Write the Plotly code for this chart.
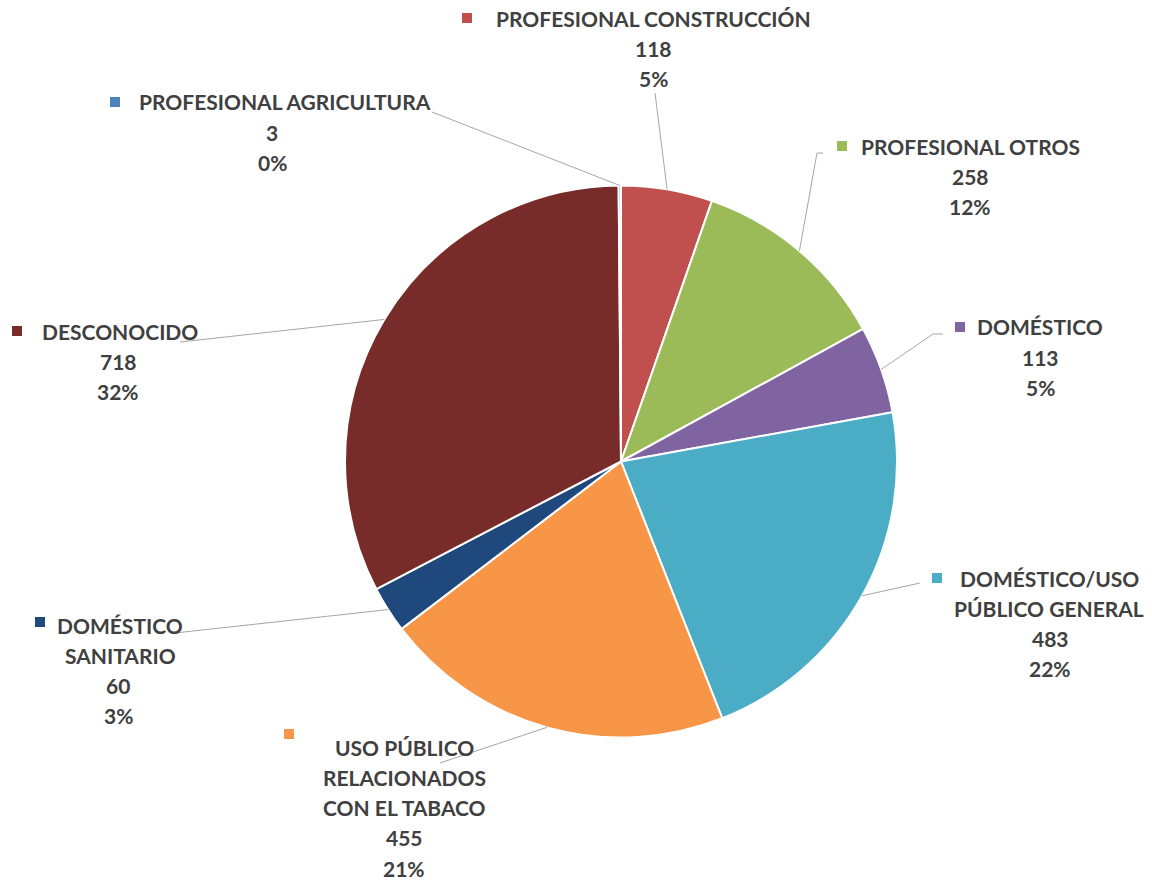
import math
import plotly.graph_objects as go

# Data
categories = [
    "PROFESIONAL CONSTRUCCIÓN",
    "PROFESIONAL OTROS",
    "DOMÉSTICO",
    "DOMÉSTICO/USO PÚBLICO GENERAL",
    "USO PÚBLICO RELACIONADOS CON EL TABACO",
    "DOMÉSTICO SANITARIO",
    "DESCONOCIDO",
    "PROFESIONAL AGRICULTURA",
]
values = [118, 258, 113, 483, 455, 60, 718, 3]
pct_labels = ["5%", "12%", "5%", "22%", "21%", "3%", "32%", "0%"]
colors = ["#C0504D", "#9BBB59", "#8064A2", "#4BACC6", "#F79646", "#1F497D", "#772C2A", "#4F81BD"]

# Label name lines as they wrap on the chart
name_lines = [
    ["PROFESIONAL CONSTRUCCIÓN"],
    ["PROFESIONAL OTROS"],
    ["DOMÉSTICO"],
    ["DOMÉSTICO/USO", "PÚBLICO GENERAL"],
    ["USO PÚBLICO", "RELACIONADOS", "CON EL TABACO"],
    ["DOMÉSTICO", "SANITARIO"],
    ["DESCONOCIDO"],
    ["PROFESIONAL AGRICULTURA"],
]

W, H = 1152, 881
CX, CY, R = 621, 461.5, 276  # pie centre and radius in px

# Label layout in px: name centre x, value centre x, first line y, key (x, y),
# leader line points from label side (ending at slice edge)
label_layout = [
    dict(nx=653, vx=653, y0=18, key=(467, 18), lead=[(655, 93)]),
    dict(nx=970, vx=970, y0=146, key=(842, 146), lead=[(823, 153), (817, 153)]),
    dict(nx=1040, vx=1040, y0=327, key=(960, 327), lead=[(943, 334), (933, 334)]),
    dict(nx=1049, vx=1050, y0=578, key=(937, 578), lead=[(920, 583)]),
    dict(nx=404, vx=404, y0=747, key=(289, 734), lead=[(440, 763)]),
    dict(nx=120, vx=118, y0=625, key=(40, 622), lead=[(175, 633)]),
    dict(nx=120, vx=118, y0=331, key=(17, 331), lead=[(180, 342)]),
    dict(nx=285, vx=272, y0=102, key=(115, 102), lead=[(432, 112)]),
]
LINE_H = 30.3
KEY = 10

def px(x):
    return x / W

def py(y):
    return 1 - y / H

fig = go.Figure()
fig.add_trace(go.Pie(
    labels=categories,
    values=values,
    marker=dict(colors=colors, line=dict(color="white", width=2)),
    textinfo="none",
    sort=False,
    direction="clockwise",
    rotation=0,
    showlegend=False,
    domain=dict(x=[px(CX - R), px(CX + R)], y=[py(CY + R), py(CY - R)]),
))

total = sum(values)
shapes = []
annotations = []
font = dict(family="Lato, 'Open Sans', sans-serif", size=21, color="#404040")

cum = 0
for i, v in enumerate(values):
    mid = (cum + v / 2) / total * 2 * math.pi
    cum += v
    ex = CX + R * math.sin(mid)
    ey = CY - R * math.cos(mid)
    lay = label_layout[i]

    # leader line from label to slice edge
    pts = lay["lead"] + [(ex, ey)]
    path = "M " + " L ".join(f"{px(x):.5f},{py(y):.5f}" for x, y in pts)
    shapes.append(dict(type="path", path=path, xref="paper", yref="paper",
                       line=dict(color="#A6A6A6", width=1)))

    # colour key
    kx, ky = lay["key"]
    shapes.append(dict(type="rect", xref="paper", yref="paper",
                       x0=px(kx - KEY / 2), x1=px(kx + KEY / 2),
                       y0=py(ky + KEY / 2), y1=py(ky - KEY / 2),
                       fillcolor=colors[i], line=dict(width=0)))

    # text lines
    lines = [(t, lay["nx"]) for t in name_lines[i]] + [(str(v), lay["vx"]), (pct_labels[i], lay["vx"])]
    for j, (t, x) in enumerate(lines):
        annotations.append(dict(
            text=f"<b>{t}</b>", x=px(x), y=py(lay["y0"] + j * LINE_H),
            xref="paper", yref="paper", xanchor="center", yanchor="middle",
            showarrow=False, font=font,
        ))

fig.update_layout(
    width=W, height=H,
    margin=dict(l=0, r=0, t=0, b=0),
    paper_bgcolor="white",
    plot_bgcolor="white",
    shapes=shapes,
    annotations=annotations,
)

fig.write_html("out.html")
